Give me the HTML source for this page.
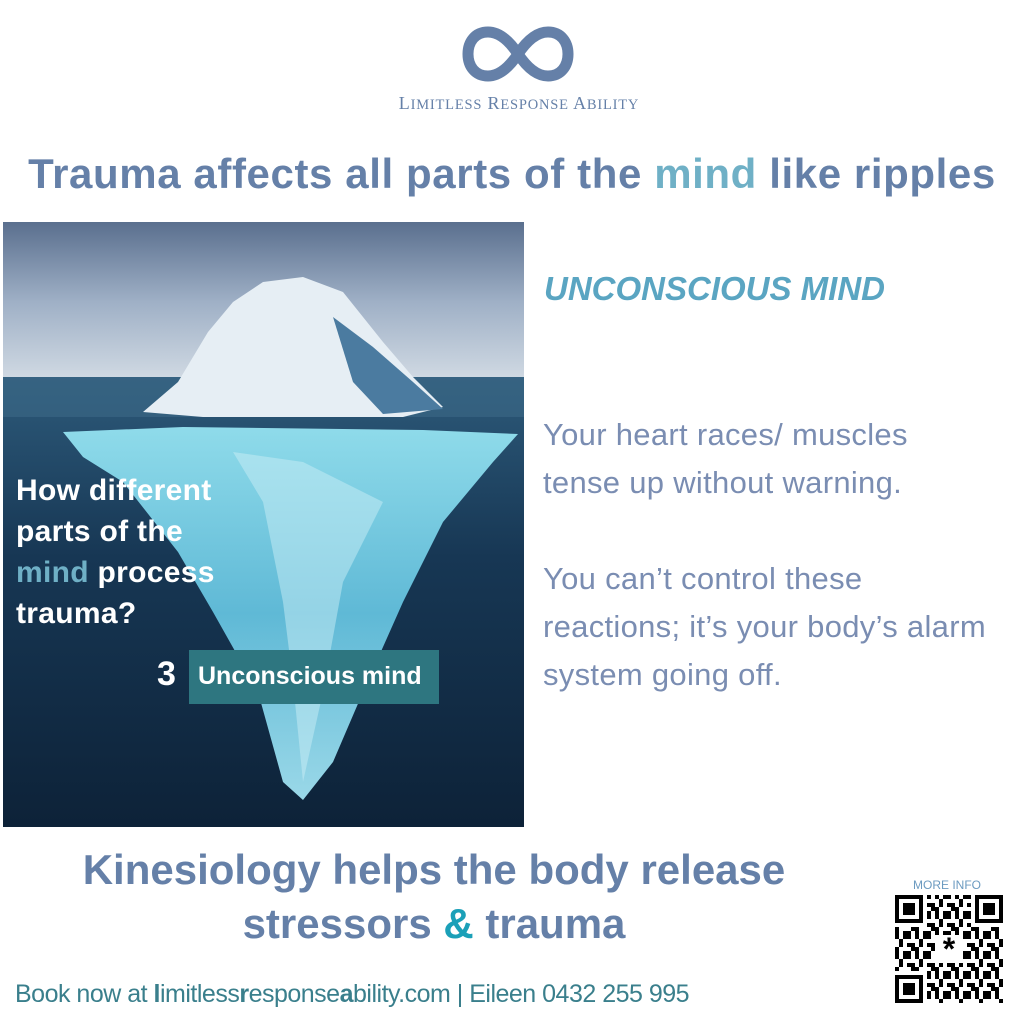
<!DOCTYPE html>
<html><head><meta charset="utf-8"><style>
*{margin:0;padding:0;box-sizing:border-box}
body{width:1024px;height:1024px;background:#fff;position:relative;overflow:hidden;font-family:"Liberation Sans",sans-serif}
.a{position:absolute;white-space:nowrap}
</style></head><body>
<svg class="a" style="left:460px;top:24px" width="116" height="60" viewBox="0 0 116 60">
<path d="M58 30 C46 12,36 8,28 8 C15 8,8 18,8 30 C8 42,15 52,28 52 C36 52,46 48,58 30 C70 12,80 8,88 8 C101 8,108 18,108 30 C108 42,101 52,88 52 C80 52,70 48,58 30Z" fill="none" stroke="#6580a8" stroke-width="11"/>
</svg>
<div class="a" style="left:374px;top:93px;width:290px;text-align:center;font-family:'Liberation Serif',serif;font-size:18px;color:#6580a8;letter-spacing:0.8px">L<span style="font-size:14.5px">IMITLESS</span> R<span style="font-size:14.5px">ESPONSE</span> A<span style="font-size:14.5px">BILITY</span></div>
<div class="a" style="left:0;width:1024px;text-align:center;top:150px;font-size:42px;font-weight:bold;color:#6580a8;letter-spacing:0.6px">Trauma affects all parts of the <span style="color:#6fb0c6">mind</span> like ripples</div>

<svg class="a" style="left:3px;top:222px" width="521" height="605" viewBox="0 0 521 605">
<defs>
<linearGradient id="sky" x1="0" y1="0" x2="0" y2="1"><stop offset="0" stop-color="#5a6f8e"/><stop offset="0.5" stop-color="#9fb0c6"/><stop offset="1" stop-color="#d2dbe4"/></linearGradient>
<linearGradient id="sea" x1="0" y1="0" x2="0" y2="1"><stop offset="0" stop-color="#2d5a7a"/><stop offset="0.4" stop-color="#173754"/><stop offset="1" stop-color="#0d2238"/></linearGradient>
<linearGradient id="ice" x1="0" y1="0" x2="0" y2="1"><stop offset="0" stop-color="#8fdbea"/><stop offset="0.5" stop-color="#5fb9d6"/><stop offset="1" stop-color="#9ad8e8"/></linearGradient>
</defs>
<rect width="521" height="160" fill="url(#sky)"/>
<rect y="155" width="521" height="450" fill="url(#sea)"/>
<rect y="155" width="521" height="40" fill="#3c6987" opacity="0.6"/>
<path d="M60 210 L180 205 L420 208 L515 212 L490 240 L440 300 L400 380 L360 470 L330 540 L300 578 L280 560 L255 470 L210 390 L175 330 L120 260 L80 235Z" fill="url(#ice)"/>
<path d="M230 230 L260 280 L280 380 L290 460 L300 560 L320 470 L340 360 L380 280 L300 240Z" fill="#c9eef5" opacity="0.5"/>
<path d="M140 190 L175 160 L205 110 L230 80 L260 60 L300 55 L340 70 L380 120 L410 155 L440 185 L400 195 L300 195 L200 195Z" fill="#e6eef4"/>
<path d="M330 95 L370 125 L410 160 L440 187 L380 192 L350 160Z" fill="#4b7ba0"/>
</svg>
<div class="a" style="left:16px;top:470px;font-size:30px;font-weight:bold;color:#fff;line-height:41px;letter-spacing:0.3px">How different<br>parts of the<br><span style="color:#6fb0c6">mind</span> process<br>trauma?</div>
<div class="a" style="left:157px;top:655px;font-size:34px;font-weight:bold;color:#fff">3</div>
<div class="a" style="left:189px;top:650px;width:250px;height:54px;background:#2e7680;color:#fff;font-size:25px;font-weight:bold;line-height:52px;padding-left:9px">Unconscious mind</div>

<div class="a" style="left:544px;top:270px;font-size:33px;font-weight:bold;font-style:italic;color:#5aa5c2">UNCONSCIOUS MIND</div>
<div class="a" style="left:543px;top:411px;font-size:31px;color:#7a8db2;line-height:48px;letter-spacing:0.3px">Your heart races/ muscles<br>tense up without warning.<br><br>You can’t control these<br>reactions; it’s your body’s alarm<br>system going off.</div>

<div class="a" style="left:0;width:868px;text-align:center;top:843px;font-size:42px;font-weight:bold;color:#6580a8;line-height:54px">Kinesiology helps the body release<br>stressors <span style="color:#1ba0b8">&amp;</span> trauma</div>
<div class="a" style="left:15px;top:980px;font-size:25px;color:#3a7f8c;letter-spacing:-0.5px">Book now at <b>l</b>imitless<b>r</b>esponse<b>a</b>bility.com | Eileen 0432 255 995</div>

<div class="a" style="left:913px;top:878px;font-size:12px;color:#6b9ac0">MORE INFO</div>
<svg class="a" style="left:895px;top:895px" width="108" height="108" viewBox="0 0 27 27" shape-rendering="crispEdges">
<defs><pattern id="q" width="5" height="5" patternUnits="userSpaceOnUse"><rect x="0" y="0" width="1" height="1"/><rect x="2" y="0" width="2" height="1"/><rect x="1" y="1" width="1" height="2"/><rect x="3" y="2" width="2" height="1"/><rect x="0" y="3" width="1" height="2"/><rect x="2" y="4" width="2" height="1"/><rect x="4" y="3" width="1" height="1"/></pattern></defs>
<rect width="27" height="27" fill="url(#q)"/>
<rect x="0" y="0" width="8" height="8" fill="#fff"/><rect x="19" y="0" width="8" height="8" fill="#fff"/><rect x="0" y="19" width="8" height="8" fill="#fff"/>
<g fill="none" stroke="#000"><rect x="0.5" y="0.5" width="6" height="6"/><rect x="20.5" y="0.5" width="6" height="6"/><rect x="0.5" y="20.5" width="6" height="6"/></g>
<rect x="2" y="2" width="3" height="3"/><rect x="22" y="2" width="3" height="3"/><rect x="2" y="22" width="3" height="3"/>
<rect x="10" y="10" width="7" height="7" fill="#fff"/>
<text x="13.5" y="16.3" font-size="8" text-anchor="middle" font-weight="bold">*</text>
</svg>
</body></html>
